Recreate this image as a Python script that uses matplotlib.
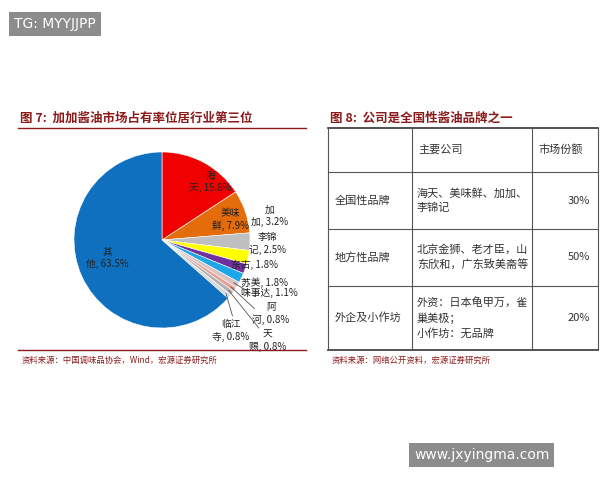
import matplotlib
matplotlib.use("Agg")
import matplotlib.pyplot as plt
from matplotlib.lines import Line2D
import numpy as np

plt.rcParams["font.family"] = ["Noto Sans CJK SC", "DejaVu Sans"]

# pie data (clockwise from 12 o'clock)
brands = ["海天", "美味鲜", "加加", "李锦记", "东古", "苏美", "味事达", "阿河", "天赐", "临江寺", "其他"]
shares = [15.8, 7.9, 3.2, 2.5, 1.8, 1.8, 1.1, 0.8, 0.8, 0.8, 63.5]
colors = ["#f00000", "#e46c0a", "#bfbfbf", "#ffff00", "#7030a0", "#1ea7e8",
          "#d9c3c3", "#e6a093", "#b0b0b0", "#d9d9d9", "#0f70c0"]
# label text (as wrapped in the source) and label positions in pie units
label_txt = ["海\n天, 15.8%", "美味\n鲜, 7.9%", "加\n加, 3.2%", "李锦\n记, 2.5%", "东古, 1.8%",
             "苏美, 1.8%", "味事达, 1.1%", "阿\n河, 0.8%", "天\n赐, 0.8%", "临江\n寺, 0.8%", "其\n他, 63.5%"]
label_pos = [(0.55, 0.66), (0.78, 0.23), (1.22, 0.27), (1.2, -0.04), (1.05, -0.28),
             (1.16, -0.48), (1.22, -0.6), (1.24, -0.83), (1.2, -1.15), (0.78, -1.03), (-0.62, -0.2)]
leaders = {"味事达": (1.0, -0.6), "阿河": (1.05, -0.78), "天赐": (1.1, -1.0), "临江寺": (0.8, -0.86)}

# table data
tbl_header = ["", "主要公司", "市场份额"]
tbl_rows = [["全国性品牌", "海天、美味鲜、加加、\n李锦记", "30%"],
            ["地方性品牌", "北京金狮、老才臣，山\n东欣和，广东致美斋等", "50%"],
            ["外企及小作坊", "外资：日本龟甲万，雀\n巢美极；\n小作坊：无品牌", "20%"]]

W, H = 600, 480
fig = plt.figure(figsize=(6, 4.8), dpi=100)
fig.patch.set_facecolor("white")

def fx(px):
    return px / W

def fy(py):
    return 1 - py / H

def hline(x0, x1, y, color="#7f1d1d", lw=1.0):
    fig.add_artist(Line2D([fx(x0), fx(x1)], [fy(y), fy(y)], color=color, lw=lw))

def vline(x, y0, y1, color="#555555", lw=0.8):
    fig.add_artist(Line2D([fx(x), fx(x)], [fy(y0), fy(y1)], color=color, lw=lw))

RED = "#8b1a1a"
# left panel
fig.text(fx(20), fy(118), "图 7:  加加酱油市场占有率位居行业第三位", fontsize=9, color=RED,
         fontweight="bold", va="center")
hline(18, 306, 128, RED, 1.0)
hline(18, 306, 350, RED, 1.0)
fig.text(fx(22), fy(360), "资料来源：中国调味品协会，Wind，宏源证券研究所", fontsize=6, color=RED,
         style="italic", va="center")

cx, cy, r = 162, 240, 88
ax = fig.add_axes([fx(cx - r), fy(cy + r), 2 * r / W, 2 * r / H])
ax.pie(shares, colors=colors, startangle=90, counterclock=False,
       wedgeprops={"edgecolor": "white", "linewidth": 0.4})
ax.set_xlim(-1, 1); ax.set_ylim(-1, 1); ax.set_aspect("auto")
for t, (x, y) in zip(label_txt, label_pos):
    ax.text(x, y, t, fontsize=7, ha="center", va="center", color="#222222",
            linespacing=1.3, clip_on=False)
cum = np.cumsum([0] + shares)
for name, (x, y) in leaders.items():
    i = brands.index(name)
    ang = np.deg2rad(90 - 3.6 * (cum[i] + shares[i] / 2))
    ax.plot([0.95 * np.cos(ang), x], [0.95 * np.sin(ang), y], color="#555555", lw=0.6, clip_on=False)

# right panel (table)
fig.text(fx(330), fy(118), "图 8:  公司是全国性酱油品牌之一", fontsize=9, color=RED,
         fontweight="bold", va="center")
hline(328, 598, 128, "#333333", 1.2)
hline(328, 598, 350, "#333333", 1.2)
row_y = [128, 172, 229, 286, 350]
col_x = [328, 412, 532, 598]
for y in row_y[1:-1]:
    hline(328, 598, y, "#555555", 0.8)
for x in col_x:
    vline(x, 128, 350)
fs = 8
fig.text(fx(418), fy(150), tbl_header[1], fontsize=fs, color="#333333", va="center")
fig.text(fx(538), fy(150), tbl_header[2], fontsize=fs, color="#333333", va="center")
for k, row in enumerate(tbl_rows):
    ym = (row_y[k + 1] + row_y[k + 2]) / 2
    fig.text(fx(335), fy(ym), row[0], fontsize=fs, color="#333333", va="center")
    fig.text(fx(417), fy(ym), row[1], fontsize=fs, color="#333333", va="center", linespacing=1.5)
    fig.text(fx(590), fy(ym), row[2], fontsize=fs, color="#333333", va="center", ha="right")
fig.text(fx(332), fy(360), "资料来源：网络公开资料，宏源证券研究所", fontsize=6, color=RED,
         style="italic", va="center")

# watermarks
fig.text(fx(14), fy(24), "TG: MYYJJPP", fontsize=10, color="white", va="center",
         family=["DejaVu Sans"],
         bbox=dict(boxstyle="square,pad=0.35", fc="#8c8c8c", ec="none"))
fig.text(fx(414), fy(455), "www.jxyingma.com", fontsize=10, color="white", va="center",
         family=["DejaVu Sans"],
         bbox=dict(boxstyle="square,pad=0.35", fc="#8c8c8c", ec="none"))

fig.savefig("out.png", dpi=100)
